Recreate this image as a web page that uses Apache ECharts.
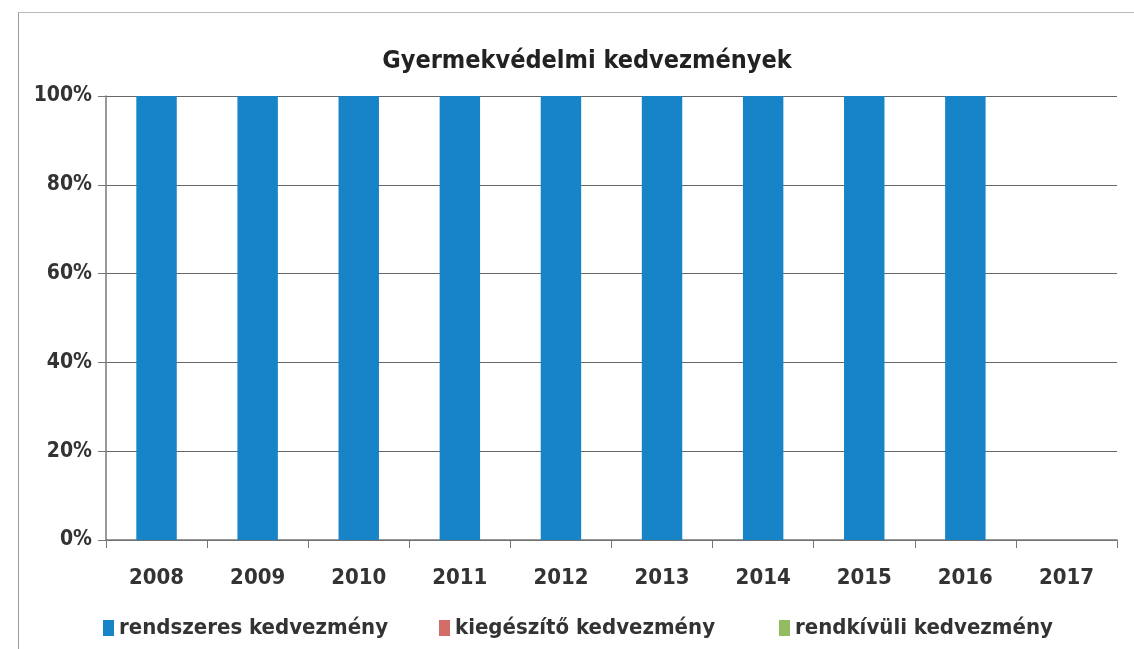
<!DOCTYPE html>
<html>
<head>
<meta charset="utf-8">
<script src="https://cdn.jsdelivr.net/npm/echarts@6/dist/echarts.min.js"></script>
<style>
  html, body { margin: 0; padding: 0; background: #fff; }
  .charts { width: 1134px; height: 649px; box-sizing: border-box; }
  .frame { position: absolute; left: 18px; top: 12px; width: 1130px; height: 660px; border-left: 1px solid #999; border-top: 1px solid #bbb; pointer-events: none; }
</style>
</head>
<body>
<div class="charts"></div>
<div class="frame"></div>
<script>
var years = ['2008', '2009', '2010', '2011', '2012', '2013', '2014', '2015', '2016', '2017'];
var seriesNames = ['rendszeres kedvezmény', 'kiegészítő kedvezmény', 'rendkívüli kedvezmény'];
var rendszeres = [100, 100, 100, 100, 100, 100, 100, 100, 100, null];
var kiegeszito = [0, 0, 0, 0, 0, 0, 0, 0, 0, null];
var rendkivuli = [0, 0, 0, 0, 0, 0, 0, 0, 0, null];

var charts = document.querySelector('.charts');
var myChart = echarts.init(charts, null, {renderer: 'canvas'});

var font = 'DejaVu Sans Condensed, sans-serif';

// one legend per item so each sits where the original has it
var legendLeft = [98, 434, 774];
var legends = seriesNames.map(function (name, i) {
    return {
        left: legendLeft[i],
        top: 612,
        itemWidth: 11,
        itemHeight: 16,
        itemGap: 6,
        icon: 'rect',
        textStyle: {fontSize: 22, fontWeight: 'bold', color: '#333', fontFamily: font},
        data: [name]
    };
});

var option = {
    backgroundColor: '#fff',
    title: {
        text: 'Gyermekvédelmi kedvezmények',
        left: 582,
        top: 44,
        textAlign: 'center',
        textStyle: {fontSize: 25, fontWeight: 'bold', color: '#222', fontFamily: font}
    },
    legend: legends,
    grid: {left: 106, right: 17, top: 96, bottom: 109, containLabel: false},
    xAxis: {
        type: 'category',
        data: years,
        axisLine: {lineStyle: {color: '#777', width: 1.5}},
        axisTick: {show: true, length: 8, lineStyle: {color: '#777'}},
        axisLabel: {fontSize: 22, fontWeight: 'bold', color: '#333', margin: 27, fontFamily: font}
    },
    yAxis: {
        type: 'value',
        min: 0,
        max: 100,
        interval: 20,
        axisLine: {show: true, lineStyle: {color: '#777', width: 1.5}},
        axisTick: {show: true, length: 8, lineStyle: {color: '#777'}},
        axisLabel: {formatter: '{value}%', fontSize: 21, fontWeight: 'bold', color: '#333', margin: 14, fontFamily: font},
        splitLine: {lineStyle: {color: '#666', width: 1.2}}
    },
    series: [
        {name: seriesNames[0], type: 'bar', stack: 'all', barWidth: '40%', itemStyle: {color: '#1684c6'}, data: rendszeres},
        {name: seriesNames[1], type: 'bar', stack: 'all', barWidth: '40%', itemStyle: {color: '#d26d69'}, data: kiegeszito},
        {name: seriesNames[2], type: 'bar', stack: 'all', barWidth: '40%', itemStyle: {color: '#92bb62'}, data: rendkivuli}
    ]
};

myChart.setOption(option);
</script>
</body>
</html>
